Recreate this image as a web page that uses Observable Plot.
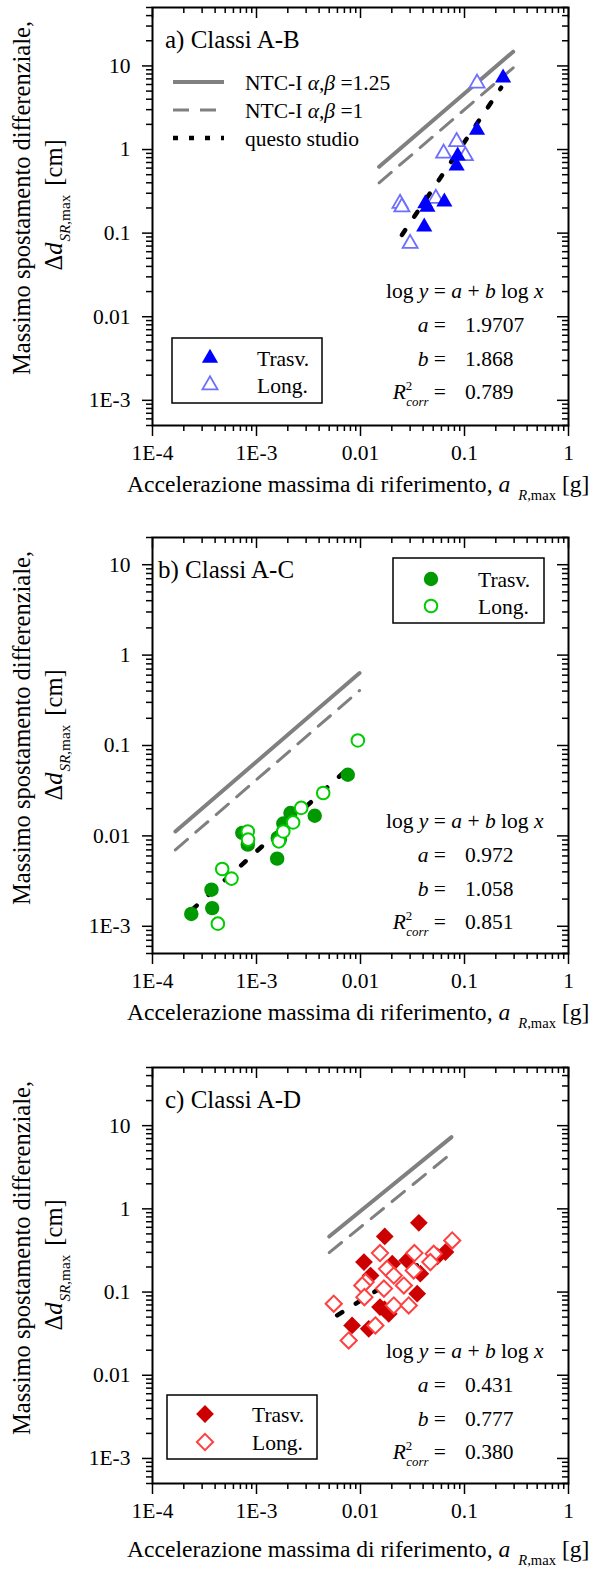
<!DOCTYPE html>
<html><head><meta charset="utf-8">
<script src="https://cdn.jsdelivr.net/npm/d3@7"></script>
<script src="https://cdn.jsdelivr.net/npm/@observablehq/plot@0.6"></script>
<style>
body{margin:0;background:#fff;}
#chart svg{display:block;}
</style>
</head><body><div id="chart"></div>
<script>
// ---------- tick values and labels ----------
const xTicks = [1e-4, 1e-3, 1e-2, 1e-1, 1];
const xTickLabels = ["1E-4", "1E-3", "0.01", "0.1", "1"];
const yTicks = [1e-3, 1e-2, 1e-1, 1, 10];
const yTickLabels = ["1E-3", "0.01", "0.1", "1", "10"];

// ---------- panel a) Classi A-B ----------
const aTrasvX = [0.235, 0.132, 0.086, 0.084, 0.042, 0.064, 0.041, 0.044];
const aTrasvY = [7.2, 1.71, 0.84, 0.64, 0.226, 0.237, 0.119, 0.205];
const aLongX = [0.132, 0.084, 0.063, 0.102, 0.053, 0.024, 0.025, 0.030];
const aLongY = [6.2, 1.24, 0.90, 0.84, 0.26, 0.226, 0.205, 0.075];
const aNtc125X = [0.0151, 0.294];
const aNtc125Y = [0.622, 14.8];
const aNtc1X = [0.0151, 0.294];
const aNtc1Y = [0.40, 9.5];
const aFitX = [0.025, 0.225];
const aFitY = [0.095, 5.5];
const aCoef = ["1.9707", "1.868", "0.789"];

// ---------- panel b) Classi A-C ----------
const bTrasvX = [2.36e-4, 3.69e-4, 3.75e-4, 7.3e-4, 8.25e-4, 1.58e-3, 1.60e-3, 1.68e-3, 1.81e-3, 2.12e-3, 3.63e-3, 7.55e-3];
const bTrasvY = [1.37e-3, 2.54e-3, 1.59e-3, 0.0108, 0.0080, 0.0056, 0.0095, 0.0091, 0.0137, 0.0179, 0.0167, 0.0475];
const bLongX = [4.25e-4, 4.68e-4, 5.75e-4, 8.24e-4, 8.3e-4, 1.64e-3, 1.81e-3, 2.25e-3, 2.69e-3, 4.38e-3, 9.43e-3];
const bLongY = [1.07e-3, 4.3e-3, 3.37e-3, 0.0112, 0.0091, 0.0087, 0.0112, 0.0141, 0.0204, 0.0298, 0.1137];
const bNtc125X = [1.66e-4, 0.0098];
const bNtc125Y = [0.0112, 0.634];
const bNtc1X = [1.66e-4, 0.0098];
const bNtc1Y = [0.0070, 0.406];
const bFitX = [2.41e-4, 7.7e-3];
const bFitY = [1.53e-3, 0.0564];
const bCoef = ["0.972", "1.058", "0.851"];

// ---------- panel c) Classi A-D ----------
const cTrasvX = [0.0364, 0.0171, 0.0108, 0.0202, 0.0281, 0.0376, 0.0656, 0.0125, 0.0154, 0.0187, 0.0083, 0.0120, 0.0351, 0.0170, 0.055];
const cTrasvY = [0.68, 0.466, 0.229, 0.219, 0.24, 0.166, 0.302, 0.158, 0.066, 0.0548, 0.0397, 0.0362, 0.0955, 0.062, 0.268];
const cLongX = [0.0762, 0.0154, 0.033, 0.0506, 0.047, 0.018, 0.0112, 0.0325, 0.00553, 0.0077, 0.0104, 0.0109, 0.0168, 0.0139, 0.0209, 0.0261, 0.0291, 0.0209];
const cLongY = [0.417, 0.294, 0.294, 0.288, 0.229, 0.19, 0.132, 0.182, 0.0724, 0.0262, 0.12, 0.0869, 0.11, 0.0397, 0.069, 0.12, 0.069, 0.158];
const cNtc125X = [0.005, 0.075];
const cNtc125Y = [0.466, 7.28];
const cNtc1X = [0.005, 0.075];
const cNtc1Y = [0.298, 4.66];
const cFitX = [0.00597, 0.0656];
const cFitY = [0.0524, 0.347];
const cCoef = ["0.431", "0.777", "0.380"];

// ---------- helpers ----------
const FONT = "'Liberation Serif', 'Times New Roman', serif";
const xLab = new Map(xTicks.map((d, i) => [d, xTickLabels[i]]));
const yLab = new Map(yTicks.map((d, i) => [d, yTickLabels[i]]));
function minorTicks(lo, hi) {
  const out = [];
  for (let e = -5; e <= 2; e++) for (let m = 2; m <= 9; m++) {
    const v = +(m * Math.pow(10, e)).toPrecision(3);
    if (v >= lo * 0.999 && v <= hi * 1.001) out.push(v);
  }
  return out;
}
const pts = (xs, ys) => xs.map((x, i) => ({x, y: ys[i]}));

function rich(sel, x, y, parts, {size = 21.5, anchor = "start", rotate = 0} = {}) {
  const t = sel.append("text").attr("font-family", FONT).attr("font-size", size)
    .attr("fill", "black").attr("text-anchor", anchor);
  if (rotate) t.attr("transform", `translate(${x},${y}) rotate(${rotate})`);
  else t.attr("x", x).attr("y", y);
  let shift = 0;
  for (const p of parts) {
    const s = t.append("tspan").text(p.t);
    if (p.i) s.attr("font-style", "italic");
    const target = p.sub ? size * 0.32 : p.sup ? -size * 0.42 : 0;
    const dy = target - shift; shift = target;
    if (dy) s.attr("dy", dy);
    if (p.s) s.attr("font-size", size * p.s);
    if (p.dx) s.attr("dx", p.dx);
  }
  return t;
}

function makePanel(p) {
  const W = 597, ml = 152, mr = 29, mt = 7;
  const ph = p.plotH, pw = W - ml - mr;
  const xMinor = minorTicks(1e-4, 1);
  const yMinor = minorTicks(p.yDomain[0], p.yDomain[1]);
  const tickStyle = {stroke: "black", strokeWidth: 1.5};
  const markerMarks = p.filledOnTop
    ? [Plot.dot(pts(p.longX, p.longY), {x: "x", y: "y", ...p.openStyle}),
       Plot.dot(pts(p.trasvX, p.trasvY), {x: "x", y: "y", ...p.filledStyle})]
    : [Plot.dot(pts(p.trasvX, p.trasvY), {x: "x", y: "y", ...p.filledStyle}),
       Plot.dot(pts(p.longX, p.longY), {x: "x", y: "y", ...p.openStyle})];
  const svg = Plot.plot({
    width: W, height: p.height,
    marginLeft: ml, marginRight: mr, marginTop: mt, marginBottom: p.height - mt - ph,
    style: {fontFamily: FONT, fontSize: "21.5px", color: "black", background: "white", overflow: "visible"},
    x: {type: "log", domain: [1e-4, 1]},
    y: {type: "log", domain: p.yDomain},
    marks: [
      Plot.line(pts(p.ntc125X, p.ntc125Y), {x: "x", y: "y", stroke: "#808080", strokeWidth: 4}),
      Plot.line(pts(p.ntc1X, p.ntc1Y), {x: "x", y: "y", stroke: "#808080", strokeWidth: 3, strokeDasharray: "16 11"}),
      Plot.line(pts(p.fitX, p.fitY), {x: "x", y: "y", stroke: "black", strokeWidth: 4.5, strokeDasharray: "6 16"}),
      ...markerMarks,
      Plot.frame({stroke: "black", strokeWidth: 2}),
      Plot.axisX(xMinor, {anchor: "bottom", tickSize: 6, tickFormat: () => "", label: null, ...tickStyle}),
      Plot.axisX(xTicks, {anchor: "bottom", tickSize: 11, tickPadding: 8, tickFormat: d => xLab.get(d), label: null, ...tickStyle}),
      Plot.axisY(yMinor, {anchor: "left", tickSize: 6, tickFormat: () => "", label: null, ...tickStyle}),
      Plot.axisY(yTicks, {anchor: "left", tickSize: 10, tickPadding: 12, tickFormat: d => yLab.get(d), label: null, ...tickStyle}),
      Plot.ruleX(xMinor, {x: d => d, insetBottom: ph - 6, ...tickStyle}),
      Plot.ruleX(xTicks, {x: d => d, insetBottom: ph - 11, ...tickStyle}),
      Plot.ruleY(yMinor, {y: d => d, insetLeft: pw - 6, ...tickStyle}),
      Plot.ruleY(yTicks, {y: d => d, insetLeft: pw - 11, ...tickStyle})
    ]
  });
  const s = d3.select(svg);
  const ft = mt, fb = mt + ph;
  // panel label
  rich(s, p.labelX, ft + 41, [{t: p.label}], {size: 25});
  // y title (two lines)
  rich(s, 30, ft + 191, [{t: "Massimo spostamento differenziale,"}], {size: 24.5, anchor: "middle", rotate: -90});
  rich(s, 62, ft + 198, [{t: "Δ"}, {t: "d", i: 1}, {t: "SR", i: 1, sub: 1, s: 0.62, dx: 1}, {t: ",max", sub: 1, s: 0.62}, {t: " [cm]", dx: 3}],
       {size: 24.5, anchor: "middle", rotate: -90});
  // x title
  rich(s, 127, fb + p.xTitleDy, [{t: "Accelerazione massima di riferimento, "}, {t: "a", i: 1},
       {t: "R", i: 1, sub: 1, s: 0.62, dx: 8}, {t: ",max", sub: 1, s: 0.62}, {t: " [g]"}], {size: 23.6});
  // regression equation
  rich(s, 386, ft + 291, [{t: "log "}, {t: "y", i: 1}, {t: " = "}, {t: "a", i: 1}, {t: " + "}, {t: "b", i: 1}, {t: " log "}, {t: "x", i: 1}]);
  rich(s, 446, ft + 325, [{t: "a", i: 1}, {t: " ="}], {anchor: "end"});
  rich(s, 465, ft + 325, [{t: p.coef[0]}]);
  rich(s, 446, ft + 359, [{t: "b", i: 1}, {t: " ="}], {anchor: "end"});
  rich(s, 465, ft + 359, [{t: p.coef[1]}]);
  rich(s, 446, ft + 392, [{t: "R", i: 1}, {t: "2", sup: 1, s: 0.6}, {t: "corr", i: 1, sub: 1, s: 0.6, dx: -6}, {t: " ="}], {anchor: "end"});
  rich(s, 465, ft + 392, [{t: p.coef[2]}]);
  // marker legend
  const L = p.legend;
  s.append("rect").attr("x", L.x).attr("y", L.y).attr("width", L.w).attr("height", L.h)
    .attr("fill", "white").attr("stroke", "black").attr("stroke-width", 1.5);
  const sym = d3.symbol(p.d3symbol);
  const fs = p.filledStyle, os = p.openStyle;
  s.append("path").attr("d", sym.size(Math.PI * fs.r * fs.r)()).attr("transform", `translate(${L.mx},${L.y1})`)
    .attr("fill", fs.fill).attr("stroke", "none");
  s.append("path").attr("d", sym.size(Math.PI * os.r * os.r)()).attr("transform", `translate(${L.mx},${L.y2})`)
    .attr("fill", "white").attr("stroke", os.stroke).attr("stroke-width", os.strokeWidth);
  rich(s, L.tx, L.y1 + 7.5, [{t: "Trasv."}]);
  rich(s, L.tx, L.y2 + 7.5, [{t: "Long."}]);
  // line legend
  if (p.lineLegend) {
    const rows = [
      {y: 82, dash: null, w: 4, c: "#808080", parts: [{t: "NTC-I "}, {t: "α,β", i: 1}, {t: " =1.25"}]},
      {y: 110, dash: "16 11", w: 3, c: "#808080", parts: [{t: "NTC-I "}, {t: "α,β", i: 1}, {t: " =1"}]},
      {y: 138, dash: "5 11", w: 4.5, c: "black", parts: [{t: "questo studio"}]}
    ];
    for (const r of rows) {
      const ln = s.append("line").attr("x1", 173).attr("x2", 224).attr("y1", r.y).attr("y2", r.y)
        .attr("stroke", r.c).attr("stroke-width", r.w);
      if (r.dash) ln.attr("stroke-dasharray", r.dash);
      rich(s, 245, r.y + 7.5, r.parts);
    }
  }
  return svg;
}

const chart = document.getElementById("chart");
chart.append(makePanel({
  height: 530, plotH: 418, yDomain: [5e-4, 50], label: "a) Classi A-B", labelX: 165, xTitleDy: 67,
  trasvX: aTrasvX, trasvY: aTrasvY, longX: aLongX, longY: aLongY,
  ntc125X: aNtc125X, ntc125Y: aNtc125Y, ntc1X: aNtc1X, ntc1Y: aNtc1Y, fitX: aFitX, fitY: aFitY, coef: aCoef,
  filledOnTop: true, d3symbol: d3.symbolTriangle,
  filledStyle: {symbol: "triangle", r: 6, fill: "#0000ff", stroke: "none"},
  openStyle: {symbol: "triangle", r: 5.6, fill: "white", stroke: "#6e6eff", strokeWidth: 1.8},
  legend: {x: 172, y: 338, w: 150, h: 65, mx: 210, y1: 358, y2: 385, tx: 257},
  lineLegend: true
}));
chart.append(makePanel({
  height: 530, plotH: 416, yDomain: [5e-4, 20], label: "b) Classi A-C", labelX: 158, xTitleDy: 67,
  trasvX: bTrasvX, trasvY: bTrasvY, longX: bLongX, longY: bLongY,
  ntc125X: bNtc125X, ntc125Y: bNtc125Y, ntc1X: bNtc1X, ntc1Y: bNtc1Y, fitX: bFitX, fitY: bFitY, coef: bCoef,
  filledOnTop: false, d3symbol: d3.symbolCircle,
  filledStyle: {symbol: "circle", r: 7.2, fill: "#009900", stroke: "none"},
  openStyle: {symbol: "circle", r: 6.3, fill: "white", stroke: "#00cc00", strokeWidth: 2},
  legend: {x: 393, y: 28, w: 151, h: 65, mx: 431, y1: 49, y2: 76, tx: 478},
  lineLegend: false
}));
chart.append(makePanel({
  height: 511, plotH: 416, yDomain: [5e-4, 50], label: "c) Classi A-D", labelX: 165, xTitleDy: 74,
  trasvX: cTrasvX, trasvY: cTrasvY, longX: cLongX, longY: cLongY,
  ntc125X: cNtc125X, ntc125Y: cNtc125Y, ntc1X: cNtc1X, ntc1Y: cNtc1Y, fitX: cFitX, fitY: cFitY, coef: cCoef,
  filledOnTop: false, d3symbol: d3.symbolDiamond2,
  filledStyle: {symbol: "diamond2", r: 8, fill: "#cc0000", stroke: "none"},
  openStyle: {symbol: "diamond2", r: 7.3, fill: "white", stroke: "#ff4040", strokeWidth: 2},
  legend: {x: 167, y: 335, w: 150, h: 64, mx: 205, y1: 354, y2: 382, tx: 252},
  lineLegend: false
}));
</script>
</body></html>
